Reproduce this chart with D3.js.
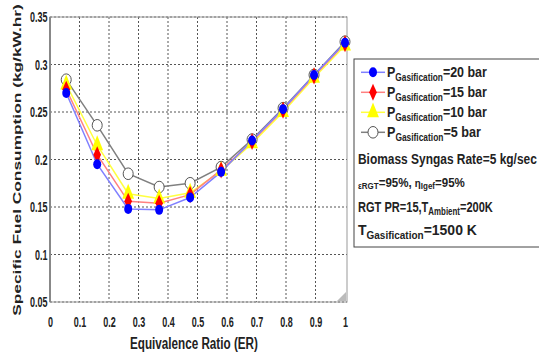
<!DOCTYPE html>
<html>
<head>
<meta charset="utf-8">
<title>Specific Fuel Consumption vs ER</title>
<script src="https://cdn.jsdelivr.net/npm/d3@7/dist/d3.min.js"></script>
<style>
  body { margin: 0; background: #fff; }
  text { font-family: "Liberation Sans", Arial, sans-serif; font-weight: bold; fill: #222; }
</style>
</head>
<body>
<div id="chart"></div>
<script>
// equivalence ratio values (x)
var erValues = [0.055, 0.16, 0.265, 0.37, 0.475, 0.58, 0.685, 0.79, 0.895, 1.0];

// specific fuel consumption, kg/kW.hr
var sfc20 = [0.270, 0.195, 0.148, 0.147, 0.160, 0.187, 0.220, 0.253, 0.289, 0.323];
var sfc15 = [0.274, 0.205, 0.156, 0.154, 0.163, 0.189, 0.219, 0.252, 0.288, 0.322];
var sfc10 = [0.279, 0.215, 0.164, 0.159, 0.165, 0.188, 0.217, 0.250, 0.286, 0.320];
var sfc5  = [0.284, 0.236, 0.185, 0.171, 0.175, 0.192, 0.221, 0.254, 0.289, 0.324];

var xTicks = [0, 0.1, 0.2, 0.3, 0.4, 0.5, 0.6, 0.7, 0.8, 0.9, 1];
var yTicks = [0.05, 0.1, 0.15, 0.2, 0.25, 0.3, 0.35];

var seriesNames = ["20 bar", "15 bar", "10 bar", "5 bar"];
var extraLines = ["Biomass Syngas Rate=5 kg/sec"];

var W = 539, H = 358
var margin = { top: 17, right: 192, bottom: 56, left: 50 }
var w = W - margin.left - margin.right
var h = H - margin.top - margin.bottom

var svg = d3.select("#chart").append("svg")
    .attr("width", W).attr("height", H)

// the picture is squeezed sideways, so texts get a horizontal scale
function fitText(t, x0, y0, target) {
  var len = t.node().getComputedTextLength()
  t.attr("x", 0).attr("y", 0)
   .attr("transform", "translate(" + x0 + "," + y0 + ") scale(" + (target / len) + ",1)")
}

var g = svg.append("g").attr("transform", "translate(" + margin.left + "," + margin.top + ")")

var x = d3.scaleLinear().domain([0, 1]).range([0, w - 2])
var y = d3.scaleLinear().domain([0.05, 0.35]).range([h, 0])

// grid
g.append("g").selectAll("line").data(xTicks.slice(1, -1)).enter().append("line")
    .attr("x1", d => x(d)).attr("x2", d => x(d)).attr("y1", 0).attr("y2", h)
    .attr("stroke", "#555").attr("stroke-dasharray", "2,2")
g.append("g").selectAll("line").data(yTicks).enter().append("line")
    .attr("x1", 0).attr("x2", w).attr("y1", d => y(d)).attr("y2", d => y(d))
    .attr("stroke", "#555").attr("stroke-dasharray", "2,2")

// frame
g.append("rect").attr("x", 0).attr("y", 0).attr("width", w).attr("height", h)
    .attr("fill", "none").attr("stroke", "#999").attr("stroke-width", 1)
g.append("line").attr("x1", 0).attr("x2", 0).attr("y1", 0).attr("y2", h)
    .attr("stroke", "#888").attr("stroke-width", 2)

// axes
var xAxis = d3.axisBottom(x).tickValues(xTicks).tickSize(0).tickPadding(14)
    .tickFormat(d => String(+d.toFixed(1)))
var yAxis = d3.axisLeft(y).tickValues(yTicks).tickSize(0).tickPadding(4)
    .tickFormat(d => String(+d.toFixed(2)))

var gx = g.append("g").attr("transform", "translate(0," + h + ")").call(xAxis)
var gy = g.append("g").call(yAxis)
gx.select(".domain").remove()
gy.select(".domain").remove()
gx.selectAll("text").attr("font-size", 15).attr("fill", "#222").attr("transform", "scale(0.6,1)")
gy.selectAll("text").attr("font-size", 15).attr("fill", "#222").attr("transform", "scale(0.6,1)")

var xt = svg.append("text").attr("font-size", 17)
    .text("Equivalence Ratio (ER)")
fitText(xt, 130, 349, 128)

var yt = svg.append("text").attr("font-size", 17)
    .text("Specific Fuel Consumption (kg/kW.hr)")
var ylen = yt.node().getComputedTextLength()
yt.attr("text-anchor", "middle")
  .attr("transform", "translate(20.5,160) rotate(-90) scale(" + (312 / ylen) + ",0.65)")

// series
var series = [
  { vals: sfc5, name: seriesNames[3], line: "#808080", marker: "circle-open", color: "#666" },
  { vals: sfc10, name: seriesNames[2], line: "#ffff40", marker: "triangle", color: "#ffff00" },
  { vals: sfc15, name: seriesNames[1], line: "#ff8080", marker: "diamond", color: "#ff0000" },
  { vals: sfc20, name: seriesNames[0], line: "#8080ff", marker: "circle", color: "#0000ff" }
]

var line = d3.line().x(d => x(d[0])).y(d => y(d[1]))

function drawMarker(sel, s) {
  if (s.marker === "circle") {
    sel.append("ellipse").attr("rx", 4).attr("ry", 5).attr("fill", s.color)
  } else if (s.marker === "circle-open") {
    sel.append("ellipse").attr("rx", 5).attr("ry", 5.8).attr("fill", "#fff").attr("stroke", "#555").attr("stroke-width", 1)
  } else if (s.marker === "diamond") {
    sel.append("path").attr("d", d3.symbol().type(d3.symbolDiamond).size(70)()).attr("fill", s.color)
      .attr("transform", "scale(0.85,1.1)")
  } else {
    sel.append("path").attr("d", d3.symbol().type(d3.symbolTriangle).size(75)()).attr("fill", s.color)
      .attr("transform", "scale(0.9,1.3)")
  }
}

series.forEach(function(s) {
  var pts = erValues.map((v, i) => [v, s.vals[i]])
  g.append("path").datum(pts).attr("d", line).attr("fill", "none")
      .attr("stroke", s.line).attr("stroke-width", 1.5)
})
series.forEach(function(s) {
  var pts = erValues.map((v, i) => [v, s.vals[i]])
  g.selectAll(null).data(pts).enter().append("g")
      .attr("transform", d => "translate(" + x(d[0]) + "," + y(d[1]) + ")")
      .each(function() { drawMarker(d3.select(this), s) })
})

// resize grip in the corner
g.append("path")
    .attr("d", d3.line()([[w - 1, h - 1], [w - 1, h - 10], [w - 10, h - 1]]))
    .attr("fill", "#bbb")

// legend
var lg = svg.append("g").attr("transform", "translate(354,59)")
lg.append("rect").attr("x", 0).attr("y", 0).attr("width", 200).attr("height", 188)
    .attr("fill", "#fff").attr("stroke", "#444").attr("stroke-width", 1)

var legOrder = series.slice().reverse()
var legWidths = [100, 100, 100, 94]
legOrder.forEach(function(s, i) {
  var yy = 13.3 + i * 20
  lg.append("line").attr("x1", 7).attr("x2", 31).attr("y1", yy).attr("y2", yy)
      .attr("stroke", s.line).attr("stroke-width", 1.5)
  var m = lg.append("g").attr("transform", "translate(19," + yy + ")")
  drawMarker(m, s)
  var t = lg.append("text").attr("font-size", 15)
  t.append("tspan").text("P")
  t.append("tspan").attr("font-size", 10).attr("dy", 4).text("Gasification")
  t.append("tspan").attr("dy", -4).text("=" + s.name)
  fitText(t, 33, yy + 5, legWidths[i])
})

var t1 = lg.append("text").attr("font-size", 15).text(extraLines[0])
fitText(t1, 4, 105, 179)

var t2 = lg.append("text").attr("font-size", 13)
t2.append("tspan").attr("font-size", 9).attr("dy", 2).text("εRGT")
t2.append("tspan").attr("dy", -2).text("=95%, ")
t2.append("tspan").attr("font-size", 11).text("η")
t2.append("tspan").attr("font-size", 9).attr("dy", 2).text("Igef")
t2.append("tspan").attr("dy", -2).text("=95%")
fitText(t2, 4, 128, 107)

var t3 = lg.append("text").attr("font-size", 14)
t3.append("tspan").text("RGT PR=15,T")
t3.append("tspan").attr("font-size", 10).attr("dy", 3).text("Ambient")
t3.append("tspan").attr("dy", -3).text("=200K")
fitText(t3, 4, 152.5, 135)

var t4 = lg.append("text").attr("font-size", 14)
t4.append("tspan").text("T")
t4.append("tspan").attr("font-size", 10).attr("dy", 4).text("Gasification")
t4.append("tspan").attr("dy", -4).text("=1500 K")
fitText(t4, 4, 176, 119)
</script>
</body>
</html>
